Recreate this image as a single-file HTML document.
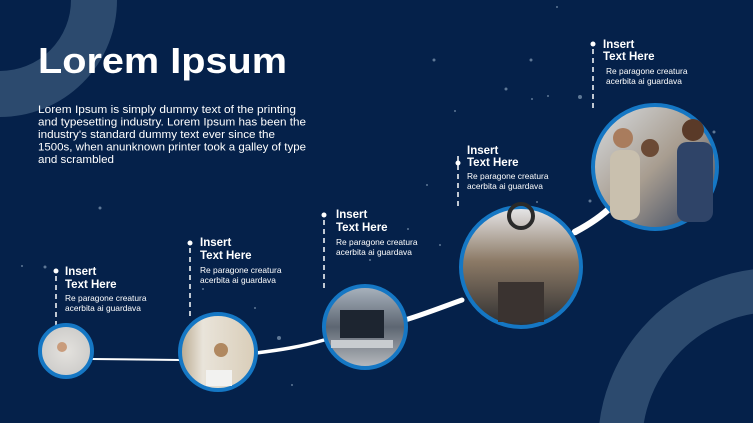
<!DOCTYPE html>
<html><head><meta charset="utf-8"><style>
html,body{margin:0;padding:0;background:#05214a;overflow:hidden;width:753px;height:423px;position:relative}
svg{display:block;position:absolute;top:0;left:0}
text{font-family:"Liberation Sans",sans-serif;fill:#fff}
.h{font-weight:bold;font-size:11.5px}
.s{font-size:8.4px}
</style></head><body>
<svg width="753" height="423" viewBox="0 0 753 423" xmlns="http://www.w3.org/2000/svg">
<defs>
<radialGradient id="g1" cx="50%" cy="50%" r="60%"><stop offset="0" stop-color="#e4e2de"/><stop offset="1" stop-color="#c9c8c6"/></radialGradient>
<linearGradient id="g2" x1="0" y1="0" x2="1" y2="0"><stop offset="0" stop-color="#b8a88e"/><stop offset=".3" stop-color="#e9e4da"/><stop offset="1" stop-color="#d9cdb8"/></linearGradient>
<linearGradient id="g3" x1="0" y1="0" x2="0" y2="1"><stop offset="0" stop-color="#aab4bf"/><stop offset=".5" stop-color="#5d6672"/><stop offset="1" stop-color="#b9bcc0"/></linearGradient>
<linearGradient id="g4" x1="0" y1="0" x2="0" y2="1"><stop offset="0" stop-color="#e8e8ea"/><stop offset=".45" stop-color="#8c7a66"/><stop offset="1" stop-color="#2e2e30"/></linearGradient>
<linearGradient id="g5" x1="0" y1="0" x2="1" y2="1"><stop offset="0" stop-color="#d8dde2"/><stop offset=".5" stop-color="#a89d90"/><stop offset="1" stop-color="#2f3f5c"/></linearGradient>
</defs>
<rect width="753" height="423" fill="#05214a"/>
<circle cx="0" cy="0" r="94" fill="none" stroke="#2c4a6e" stroke-width="46"/>
<circle cx="775" cy="445" r="155" fill="none" stroke="#2c4a6e" stroke-width="44"/>
<g fill="#5f7896">
<circle cx="45" cy="267" r="1.5"/><circle cx="22" cy="266" r="1"/><circle cx="100" cy="208" r="1.5"/><circle cx="203" cy="289" r="1"/><circle cx="255" cy="308" r="1"/><circle cx="279" cy="338" r="2"/><circle cx="292" cy="385" r="1"/><circle cx="434" cy="60" r="1.5"/><circle cx="531" cy="60" r="1.5"/><circle cx="455" cy="111" r="1"/><circle cx="506" cy="89" r="1.5"/><circle cx="580" cy="97" r="2"/><circle cx="532" cy="99" r="1"/><circle cx="714" cy="132" r="1.5"/><circle cx="537" cy="202" r="1"/><circle cx="427" cy="185" r="1"/><circle cx="440" cy="245" r="1"/><circle cx="557" cy="7" r="1"/><circle cx="590" cy="201" r="1.5"/><circle cx="548" cy="96" r="1"/><circle cx="370" cy="260" r="1"/><circle cx="408" cy="229" r="1"/>
</g>
<text x="38" y="73" textLength="249" lengthAdjust="spacingAndGlyphs" style="font-size:36px;font-weight:bold">Lorem Ipsum</text>
<g style="font-size:10.6px">
<text x="38" y="113" textLength="258" lengthAdjust="spacingAndGlyphs">Lorem Ipsum is simply dummy text of the printing</text>
<text x="38" y="125.5" textLength="268" lengthAdjust="spacingAndGlyphs">and typesetting industry. Lorem Ipsum has been the</text>
<text x="38" y="138" textLength="237" lengthAdjust="spacingAndGlyphs">industry's standard dummy text ever since the</text>
<text x="38" y="150.5" textLength="268" lengthAdjust="spacingAndGlyphs">1500s, when anunknown printer took a galley of type</text>
<text x="38" y="163" textLength="76" lengthAdjust="spacingAndGlyphs">and scrambled</text>
</g>
<g fill="none" stroke="#fff" stroke-linecap="round">
<path d="M92 359 L180 360" stroke-width="2"/>
<path d="M256 353 C280 350 300 347 324 340" stroke-width="3.5"/>
<path d="M405 320 C425 314 445 306 462 300" stroke-width="5"/>
<path d="M575 232 C590 224 602 216 612 206" stroke-width="6.5"/>
</g>
<g stroke="#fff" stroke-width="1.5" stroke-dasharray="5 4" fill="none">
<line x1="56" y1="276" x2="56" y2="325"/>
<line x1="190" y1="248" x2="190" y2="318"/>
<line x1="324" y1="220" x2="324" y2="290"/>
<line x1="458" y1="156" x2="458" y2="210"/>
<line x1="593" y1="49" x2="593" y2="108"/>
</g>
<g fill="#fff">
<circle cx="56" cy="271" r="2.5"/><circle cx="190" cy="243" r="2.5"/><circle cx="324" cy="215" r="2.5"/><circle cx="458" cy="163" r="2.5"/><circle cx="593" cy="44" r="2.5"/>
</g>
<text class="h" x="65" y="275">Insert</text><text class="h" x="65" y="288">Text Here</text>
<text class="s" x="65" y="301">Re paragone creatura</text><text class="s" x="65" y="311">acerbita ai guardava</text>
<text class="h" x="200" y="246">Insert</text><text class="h" x="200" y="259">Text Here</text>
<text class="s" x="200" y="273">Re paragone creatura</text><text class="s" x="200" y="283">acerbita ai guardava</text>
<text class="h" x="336" y="218">Insert</text><text class="h" x="336" y="231">Text Here</text>
<text class="s" x="336" y="245">Re paragone creatura</text><text class="s" x="336" y="255">acerbita ai guardava</text>
<text class="h" x="467" y="154">Insert</text><text class="h" x="467" y="166">Text Here</text>
<text class="s" x="467" y="179">Re paragone creatura</text><text class="s" x="467" y="189">acerbita ai guardava</text>
<text class="h" x="603" y="48">Insert</text><text class="h" x="603" y="60">Text Here</text>
<text class="s" x="606" y="74">Re paragone creatura</text><text class="s" x="606" y="84">acerbita ai guardava</text>
<g stroke="#1577c4" stroke-width="4">
<circle cx="66" cy="351" r="26" fill="url(#g1)"/>
<circle cx="218" cy="352" r="38" fill="url(#g2)"/>
<circle cx="365" cy="327" r="41" fill="url(#g3)"/>
<circle cx="521" cy="267" r="60" fill="url(#g4)"/>
<circle cx="655" cy="167" r="62" fill="url(#g5)"/>
</g>
<circle cx="62" cy="347" r="5" fill="#c99c7c"/>
<rect x="206" y="370" width="26" height="16" fill="#f2f2f0"/>
<circle cx="221" cy="350" r="7" fill="#b08860"/>
<rect x="340" y="310" width="44" height="28" fill="#1d2530"/>
<rect x="331" y="340" width="62" height="8" fill="#c8ccd0"/>
<rect x="498" y="282" width="46" height="40" fill="#3a3330"/>
<circle cx="521" cy="216" r="12" fill="none" stroke="#2a2a2a" stroke-width="4"/>
<rect x="677" y="142" width="36" height="80" rx="10" fill="#2f4468"/>
<rect x="610" y="150" width="30" height="70" rx="10" fill="#c9c0ae"/>
<circle cx="623" cy="138" r="10" fill="#a97c5d"/>
<circle cx="650" cy="148" r="9" fill="#6b4a35"/>
<circle cx="693" cy="130" r="11" fill="#5a3a28"/>
</svg>
</body></html>
